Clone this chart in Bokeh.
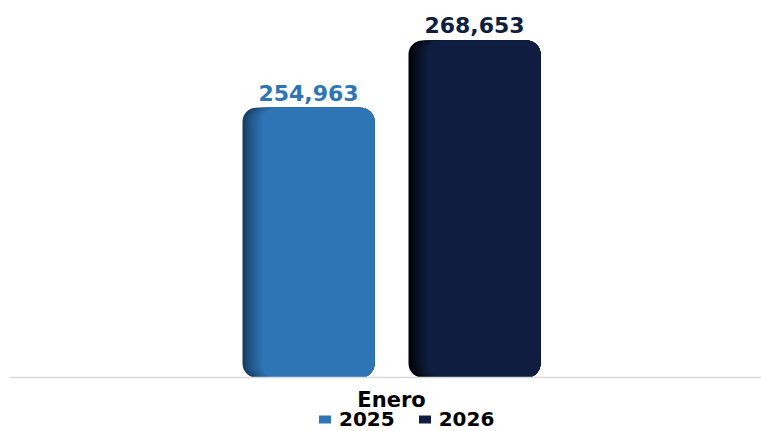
from bokeh.plotting import figure
from bokeh.models import Range1d, Legend, LegendItem, ColumnDataSource, Span
from bokeh.core.properties import value
from bokeh.embed import file_html
from bokeh.resources import INLINE

# ---- data ----
categories = ["Enero"]
series_names = ["2025", "2026"]
values_2025 = [254963]
values_2026 = [268653]
series_values = [values_2025, values_2026]

# ---- style ----
main_colors = ["#2E75B6", "#0F1E40"]
shade_colors = ["#163E63", "#010307"]
FONT = "DejaVu Sans"
W, H = 761, 431
X_START, X_END = -382, 370
Y_BASE = 200000
Y_START, Y_END = 189000, 276800
BAR_W = 132
OFFSETS = [-83, 83]
N_LAYERS = 9
STEP = 2.4
RADIUS = 14


def mix(c1, c2, t):
    a = [int(c1[i:i + 2], 16) for i in (1, 3, 5)]
    b = [int(c2[i:i + 2], 16) for i in (1, 3, 5)]
    return "#%02x%02x%02x" % tuple(round(a[k] + (b[k] - a[k]) * t) for k in range(3))


p = figure(width=W, height=H, output_backend="svg", toolbar_location=None, tools="",
           x_range=Range1d(X_START, X_END), y_range=Range1d(Y_START, Y_END),
           x_axis_location=None, y_axis_location=None,
           min_border_left=9, min_border_right=0, min_border_top=0, min_border_bottom=0)
p.outline_line_color = None
p.grid.visible = False
p.background_fill_color = "white"
p.border_fill_color = "white"

# category axis baseline
p.add_layout(Span(location=Y_BASE, dimension="width", line_color="#D9D9D9", line_width=1.5))

legend_items = []
for j, (name, vals) in enumerate(zip(series_names, series_values)):
    xs = [i + OFFSETS[j] for i in range(len(categories))]
    for k in range(N_LAYERS):
        t = (k / (N_LAYERS - 1)) ** 0.8
        src = ColumnDataSource(dict(x=[x + k * STEP / 2 for x in xs], top=vals))
        p.vbar(x="x", top="top", bottom=Y_BASE, width=BAR_W - k * STEP, source=src,
               fill_color=mix(shade_colors[j], main_colors[j], t), line_color=None,
               border_radius=RADIUS)
    lsrc = ColumnDataSource(dict(x=xs, top=vals))
    r_leg = p.vbar(x="x", top="top", bottom=Y_BASE, width=0, source=lsrc,
                   fill_color=main_colors[j], line_color=None)
    legend_items.append(LegendItem(label=name, renderers=[r_leg]))
    tsrc = ColumnDataSource(dict(x=xs, y=vals, t=[f"{v:,}" for v in vals]))
    p.text(x="x", y="y", text="t", source=tsrc, text_align="center",
           text_baseline="bottom", y_offset=-7,
           text_font=value(FONT), text_font_style="bold", text_font_size="22px",
           text_color=main_colors[j])

# category labels
csrc = ColumnDataSource(dict(x=list(range(len(categories))), y=[Y_BASE] * len(categories),
                             t=categories))
p.text(x="x", y="y", text="t", source=csrc, text_align="center", text_baseline="top",
       y_offset=10, text_font=value(FONT), text_font_style="bold",
       text_font_size="21px", text_color="#000000")

legend = Legend(items=legend_items, orientation="horizontal", location=(308, 0),
                padding=0, margin=0, spacing=22, glyph_width=15, glyph_height=10,
                label_standoff=7, label_text_font=FONT, label_text_font_style="bold",
                label_text_font_size="20px", label_text_color="#000000",
                border_line_color=None, background_fill_alpha=0, label_height=18)
p.add_layout(legend)

open("out.html", "w").write(file_html(p, INLINE))
